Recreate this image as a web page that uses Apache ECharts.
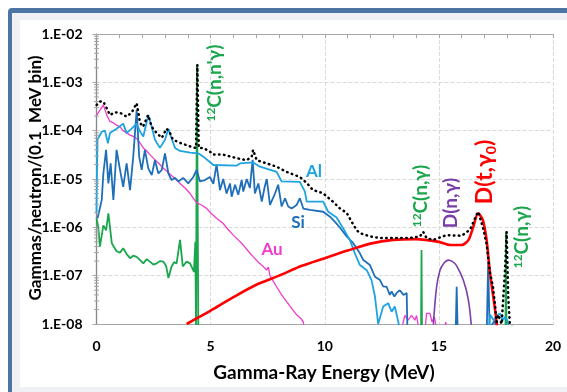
<!DOCTYPE html>
<html>
<head>
<meta charset="utf-8">
<script src="https://cdn.jsdelivr.net/npm/echarts@6/dist/echarts.min.js"></script>
<style>
  html, body { margin: 0; padding: 0; background: #ffffff; overflow: hidden; }
  #frameBlue { position: absolute; left: 8px; top: 8px; width: 640px; height: 420px; background: #4d75a3; border-radius: 4px; }
  #frameGray { position: absolute; left: 12px; top: 13px; width: 640px; height: 420px; background: #eef0f3; }
  #framePanel { position: absolute; left: 20px; top: 20px; width: 640px; height: 367px; background: #ffffff; }
  #chart { position: absolute; left: 0; top: 0; width: 567px; height: 392px; }
</style>
</head>
<body>
<div id="frameBlue"></div>
<div id="frameGray"></div>
<div id="framePanel"></div>
<div id="chart"></div>
<script>
  // values: [energy MeV, gammas/neutron per 0.1 MeV bin]
  const totalPts = [[0.01,3.4e-4],[0.15,4.0e-4],[0.30,4.0e-4],[0.45,2.9e-4],[0.59,2.1e-4],[0.80,2.4e-4],[1.03,2.35e-4],[1.32,1.95e-4],[1.55,2.4e-4],[1.76,3.7e-4],[1.91,1.45e-4],[2.04,1.2e-4],[2.26,2.1e-4],[2.42,1.2e-4],[2.64,8.9e-5],[2.86,7.1e-5],[3.07,1.1e-4],[3.22,8.9e-5],[3.35,6.5e-5],[3.66,5.6e-5],[3.95,5.0e-5],[4.23,4.5e-5],[4.36,4.4e-5],[4.42,2.3e-3],[4.48,4.4e-5],[4.66,4.4e-5],[4.97,3.7e-5],[5.10,3.2e-5],[5.54,3.2e-5],[6.14,2.7e-5],[6.58,2.45e-5],[6.80,2.9e-5],[6.86,4.0e-5],[7.02,2.45e-5],[7.46,2.1e-5],[7.89,1.8e-5],[8.33,1.4e-5],[8.91,1.1e-5],[9.21,8.3e-6],[9.48,5.9e-6],[9.92,5.1e-6],[10.36,3.4e-6],[10.67,2.45e-6],[10.96,2.0e-6],[11.18,1.3e-6],[11.40,8.7e-7],[11.54,7.6e-7],[11.98,6.5e-7],[12.42,6.0e-7],[13.15,6.0e-7],[13.73,6.0e-7],[14.17,6.5e-7],[14.31,8.1e-7],[14.46,6.0e-7],[14.75,5.5e-7],[15.05,6.2e-7],[15.34,6.9e-7],[16.0,6.7e-7],[16.36,8.9e-7],[16.65,1.8e-6],[16.72,2.1e-6],[16.93,1.0e-6],[17.09,4.5e-7],[17.24,1.15e-7],[17.37,5.9e-8],[17.46,2.5e-8],[17.53,1.1e-8],[17.60,1.55e-8],[17.75,1.0e-8],[17.89,1.15e-7],[17.97,8.1e-7],[18.04,3.6e-8],[18.11,1.0e-8],[18.3,8e-9]];

  const alPts = [[0.0,2.0e-6],[0.04,6.5e-5],[0.23,9.5e-5],[0.37,1.0e-4],[0.50,5.5e-5],[0.59,8.9e-5],[0.88,1.1e-4],[1.17,1.4e-4],[1.32,8.9e-5],[1.54,1.1e-4],[1.76,1.4e-4],[1.91,9.5e-5],[2.05,7.6e-5],[2.27,2.1e-4],[2.42,1.2e-4],[2.56,6.5e-5],[2.78,4.4e-5],[3.00,6.5e-5],[3.15,1.1e-4],[3.29,6.9e-5],[3.44,4.4e-5],[3.66,3.8e-5],[4.10,3.5e-5],[4.46,3.4e-5],[4.68,2.9e-5],[5.12,1.95e-5],[6.14,1.9e-5],[6.29,2.1e-5],[6.87,2.2e-5],[7.16,1.8e-5],[7.89,1.4e-5],[8.11,8.9e-6],[8.91,8.7e-6],[9.13,5.5e-6],[9.21,3.4e-6],[9.93,3.4e-6],[10.15,2.1e-6],[10.52,1.6e-6],[10.81,9.5e-7],[11.10,5.5e-7],[11.32,2.9e-7],[11.54,1.66e-7],[11.84,1.3e-7],[12.05,8.1e-8],[12.20,3.7e-8],[12.34,1.0e-8],[12.56,2.3e-8],[12.78,2.7e-8],[12.93,1.8e-8],[13.07,2.3e-8],[13.29,8e-9],null,[17.2,8e-9],[17.25,1.55e-8],[17.4,1.2e-8],[17.55,1.5e-8],[17.67,1.66e-8],[17.8,1.2e-8],[17.9,1.4e-8],[18.0,1.2e-8],[18.1,8e-9]];

  const siPts = [[0.05,1.55e-6],[0.23,3.7e-6],[0.30,1.3e-5],[0.42,4.0e-5],[0.52,8.1e-6],[0.62,2.1e-5],[0.74,3.7e-6],[0.88,4.0e-5],[1.03,1.55e-5],[1.17,6.9e-6],[1.32,2.1e-5],[1.47,5.9e-6],[1.61,2.9e-5],[1.76,2.7e-4],[1.87,2.9e-5],[1.98,1.55e-5],[2.12,4.0e-5],[2.27,1.66e-5],[2.42,1.2e-5],[2.56,2.45e-5],[2.71,1.3e-5],[2.86,1.55e-5],[3.00,3.4e-5],[3.15,1.3e-5],[3.29,9.5e-6],[3.44,1.05e-5],[3.58,8.9e-6],[3.80,1.05e-5],[4.02,8.1e-6],[4.24,1.1e-5],[4.39,1.55e-5],[4.53,8.9e-6],[4.75,9.5e-6],[4.97,1.1e-5],[5.12,7.9e-6],[5.26,2.0e-5],[5.41,5.9e-6],[5.55,1.0e-5],[5.70,5.0e-6],[5.85,8.1e-6],[5.92,4.3e-6],[6.07,7.6e-6],[6.21,4.7e-6],[6.36,9.5e-6],[6.43,5.5e-6],[6.58,1.0e-5],[6.72,6.5e-6],[6.84,2.5e-5],[6.94,5.0e-6],[7.09,8.1e-6],[7.24,3.4e-6],[7.37,6.9e-6],[7.46,1.0e-5],[7.60,2.9e-6],[7.82,5.0e-6],[7.96,7.6e-6],[8.11,2.7e-6],[8.26,4.0e-6],[8.40,2.7e-6],[8.55,2.45e-6],[8.77,2.9e-6],[8.91,4.0e-6],[9.06,2.45e-6],[9.35,2.3e-6],[9.93,2.1e-6],[10.23,1.66e-6],[10.45,1.3e-6],[10.67,9.8e-7],[10.96,6.5e-7],[11.25,4.7e-7],[11.54,2.9e-7],[11.69,2.1e-7],[11.98,1.66e-7],[12.20,9.5e-8],[12.42,8.1e-8],[12.56,6.0e-8],[12.71,5.9e-8],[12.85,4.0e-8],[12.93,4.7e-8],[13.05,3.7e-8],[13.15,4.4e-8],[13.29,5.0e-8],[13.45,4.0e-8],[13.59,4.4e-8],[13.62,8e-9],null,[15.74,8e-9],[15.78,5.9e-8],[15.82,8e-9],null,[17.1,8e-9],[17.16,1.95e-7],[17.22,8e-9],[17.45,1.2e-8],[17.5,8e-9]];

  const auPts = [[0.01,2.1e-4],[0.30,3.4e-4],[0.45,2.1e-4],[0.59,1.55e-4],[0.74,1.45e-4],[0.88,1.3e-4],[1.03,1.2e-4],[1.17,1.0e-4],[1.32,9.0e-5],[1.47,8.1e-5],[1.61,7.6e-5],[1.76,6.9e-5],[1.91,5.5e-5],[2.05,4.4e-5],[2.20,3.8e-5],[2.34,3.2e-5],[2.49,2.7e-5],[2.64,2.3e-5],[2.78,2.0e-5],[2.93,1.66e-5],[3.15,1.35e-5],[3.36,1.1e-5],[3.51,9.5e-6],[3.66,8.1e-6],[3.88,6.5e-6],[4.10,5.0e-6],[4.24,4.0e-6],[4.39,3.2e-6],[4.60,2.9e-6],[4.83,2.45e-6],[5.04,1.9e-6],[5.26,1.55e-6],[5.55,1.2e-6],[5.77,9.0e-7],[5.99,6.9e-7],[6.21,5.5e-7],[6.43,4.3e-7],[6.65,3.2e-7],[6.87,2.45e-7],[7.09,1.9e-7],[7.31,1.55e-7],[7.45,1.3e-7],[7.53,1.5e-7],[7.60,1.0e-7],[7.75,7.6e-8],[7.89,5.9e-8],[8.11,4.0e-8],[8.33,2.9e-8],[8.55,2.1e-8],[8.77,1.55e-8],[8.95,1.3e-8],[9.06,1.1e-8],[9.10,8e-9],null,[13.37,8e-9],[13.51,1.5e-8],[13.65,1.2e-8],[13.80,1.5e-8],[13.95,1.2e-8],[14.02,1.5e-8],[14.12,8e-9],null,[14.40,8e-9],[14.46,1.66e-8],[14.61,1.66e-8],[14.70,1.1e-8],[14.80,1.4e-8],[14.90,8e-9],null,[15.25,8e-9],[15.3,1.1e-8],[15.35,8e-9]];

  const carbonPts = [[0.0,1.55e-6],[0.08,1.0e-6],[0.15,4.0e-7],[0.30,1.1e-6],[0.42,8.7e-7],[0.52,1.95e-6],[0.67,4.7e-7],[0.88,3.2e-7],[1.03,3.0e-7],[1.17,3.7e-7],[1.32,2.8e-7],[1.47,2.3e-7],[1.61,2.6e-7],[1.76,2.45e-7],[1.91,2.1e-7],[2.05,1.8e-7],[2.20,2.2e-7],[2.34,1.95e-7],[2.49,1.7e-7],[2.64,1.8e-7],[2.78,2.0e-7],[2.93,1.95e-7],[3.05,1.6e-7],[3.15,8.9e-8],[3.29,1.55e-7],[3.40,1.9e-7],[3.51,1.8e-7],[3.66,5.5e-7],[3.78,1.55e-7],[3.95,1.95e-7],[4.10,1.8e-7],[4.27,1.2e-7],[4.33,5.0e-7],[4.36,8e-9],[4.40,2.3e-3],[4.46,8e-9],null,[14.22,8e-9],[14.24,3.4e-7],[14.26,8e-9],null,[17.92,8e-9],[17.94,8.1e-7],[17.96,8e-9]];

  const dtPts = [[3.95,1.0e-8],[4.5,1.4e-8],[5.0,1.9e-8],[6.0,3.6e-8],[7.0,6.5e-8],[8.0,1.0e-7],[9.0,1.6e-7],[10.0,2.3e-7],[11.0,3.3e-7],[12.0,4.6e-7],[13.0,5.5e-7],[14.0,5.7e-7],[15.0,5.0e-7],[15.5,4.3e-7],[16.0,4.3e-7],[16.3,5.5e-7],[16.5,1.0e-6],[16.72,1.95e-6],[16.93,1.4e-6],[17.09,5.5e-7],[17.24,1.15e-7],[17.46,2.0e-8],[17.55,9e-9]];

  const dnPts = [[14.75,8e-9],[14.9,5.9e-8],[15.05,1.3e-7],[15.2,1.75e-7],[15.41,2.1e-7],[15.6,1.95e-7],[15.78,1.6e-7],[16.07,8.1e-8],[16.29,3.2e-8],[16.43,8e-9]];

  const yTicks = ['1.E-08', '1.E-07', '1.E-06', '1.E-05', '1.E-04', '1.E-03', '1.E-02'];

  const FONT = 'Lato, "DejaVu Sans", sans-serif';
  const GRAY = '#a6a6a6';

  let myChart = echarts.init(document.getElementById('chart'));

  function rotLabel(id, x, y, text, color, size, rich) {
    return {
      type: 'text', id: id, x: x, y: y, rotation: Math.PI / 2, z: 50,
      style: {
        text: text, fill: color, fontSize: size, fontWeight: 'bold', fontFamily: FONT,
        align: 'center', verticalAlign: 'middle', rich: rich
      }
    };
  }

  function flatLabel(id, x, y, text, color, size) {
    return {
      type: 'text', id: id, x: x, y: y, z: 50,
      style: {
        text: text, fill: color, fontSize: size, fontWeight: 'bold', fontFamily: FONT,
        align: 'center', verticalAlign: 'middle'
      }
    };
  }

  const supRich = function (size, color) {
    return {
      s: { fontSize: size * 0.62, fontWeight: 'bold', fontFamily: FONT, fill: color, verticalAlign: 'top', lineHeight: size },
      m: { fontSize: size, fontWeight: 'bold', fontFamily: FONT, fill: color, lineHeight: size }
    };
  };

  const GREEN = '#1aa64c';
  const dtRich = {
    m: { fontSize: 23, fontWeight: 'bold', fontFamily: FONT, fill: '#ff0000', lineHeight: 26 },
    b: { fontSize: 14, fontWeight: 'bold', fontFamily: FONT, fill: '#ff0000', verticalAlign: 'bottom', lineHeight: 26 }
  };

  myChart.setOption({
    animation: false,
    grid: { left: 96.5, right: 14, top: 34, bottom: 68 },
    xAxis: [
      {
        type: 'value', min: 0, max: 20, interval: 5,
        axisLine: { lineStyle: { color: GRAY, width: 1.2 } },
        axisTick: { show: false },
        splitLine: { show: true, lineStyle: { color: '#d9d9d9', type: 'dashed' } },
        axisLabel: { color: '#000', fontSize: 14, fontWeight: 'bold', fontFamily: FONT, margin: 15 }
      },
      {
        type: 'value', position: 'top', min: 0, max: 20, interval: 1,
        axisLine: { show: true, lineStyle: { color: GRAY, width: 1.2 } },
        axisTick: { show: true, inside: true, length: 4, lineStyle: { color: GRAY } },
        axisLabel: { show: false },
        splitLine: { show: false }
      }
    ],
    yAxis: [
      {
        type: 'log', logBase: 10, min: 1e-8, max: 1e-2, splitNumber: 6,
        axisLine: { show: true, lineStyle: { color: GRAY, width: 1.2 } },
        axisTick: { show: true, length: 4, lineStyle: { color: GRAY } },
        splitLine: { show: true, lineStyle: { color: '#d9d9d9', type: 'dashed' } },
        axisLabel: {
          color: '#000', fontSize: 14, fontWeight: 'bold', fontFamily: FONT, margin: 14,
          formatter: function (v) {
            let e = Math.round(Math.log10(v));
            return yTicks[e + 8];
          }
        }
      },
      {
        type: 'value', position: 'right', min: 0, max: 1,
        axisLine: { show: true, lineStyle: { color: '#888', width: 1.2 } },
        axisTick: { show: false }, axisLabel: { show: false }, splitLine: { show: false }
      }
    ],
    series: [
      { name: '12C', type: 'line', data: carbonPts, showSymbol: false, symbol: 'none', connectNulls: false,
        lineStyle: { color: GREEN, width: 1.8 }, z: 2 },
      { name: 'Au', type: 'line', data: auPts, symbol: 'none', connectNulls: false,
        lineStyle: { color: '#f03ccb', width: 1.3 }, z: 3 },
      { name: 'Si', type: 'line', data: siPts, symbol: 'none', connectNulls: false,
        lineStyle: { color: '#1f6fb8', width: 1.8 }, z: 4 },
      { name: 'Al', type: 'line', data: alPts, symbol: 'none', connectNulls: false,
        lineStyle: { color: '#1ea3e2', width: 1.8 }, z: 5 },
      { name: 'D(n,g)', type: 'line', data: dnPts, symbol: 'none', smooth: 0.4,
        lineStyle: { color: '#7a3ea8', width: 1.6 }, z: 6 },
      { name: 'D(t,g0)', type: 'line', data: dtPts, symbol: 'none', smooth: 0.25,
        lineStyle: { color: '#ff0000', width: 2.6 }, z: 7 },
      { name: 'Total', type: 'line', data: totalPts, symbol: 'none',
        lineStyle: { color: '#000000', width: 2.5, type: [0.5, 4.5], cap: 'round' }, z: 8 }
    ],
    graphic: [
      {
        type: 'text', id: 'ytitle', x: 36, y: 178, rotation: Math.PI / 2, z: 50,
        style: { text: 'Gammas/neutron/(0.1  MeV bin)', fill: '#000', fontSize: 17, fontWeight: 'bold',
          fontFamily: FONT, align: 'center', verticalAlign: 'middle' }
      },
      flatLabel('xtitle', 324, 373, 'Gamma-Ray Energy (MeV)', '#000', 19),
      rotLabel('c1', 215, 83, '{s|12}{m|C(n,n\'γ)}', GREEN, 19, supRich(19, GREEN)),
      rotLabel('c2', 421, 196, '{s|12}{m|C(n,γ)}', GREEN, 19, supRich(19, GREEN)),
      rotLabel('c3', 522, 237, '{s|12}{m|C(n,γ)}', GREEN, 19, supRich(19, GREEN)),
      rotLabel('dn', 451, 203, 'D(n,γ)', '#7a3ea8', 19),
      rotLabel('dt', 485, 172, '{m|D(t,γ}{b|0}{m|)}', '#ff0000', 23, dtRich),
      flatLabel('al', 314, 172, 'Al', '#1ea3e2', 17),
      flatLabel('si', 298, 223, 'Si', '#1f6fb8', 17),
      flatLabel('au', 272, 250, 'Au', '#f03ccb', 17)
    ]
  });

  // log minor ticks on the left axis, placed through the axis scale
  let minorEls = [];
  let x0 = myChart.convertToPixel({ xAxisIndex: 0 }, 0);
  for (let k = -8; k < -2; k++) {
    for (let m = 2; m <= 9; m++) {
      let py = myChart.convertToPixel({ yAxisIndex: 0 }, m * Math.pow(10, k));
      minorEls.push({
        type: 'line', id: 'mt' + k + '_' + m, z: 40,
        shape: { x1: x0 - 2.5, y1: py, x2: x0 + 2.5, y2: py },
        style: { stroke: GRAY, lineWidth: 1 }
      });
    }
  }
  myChart.setOption({ graphic: minorEls });
</script>
</body>
</html>
